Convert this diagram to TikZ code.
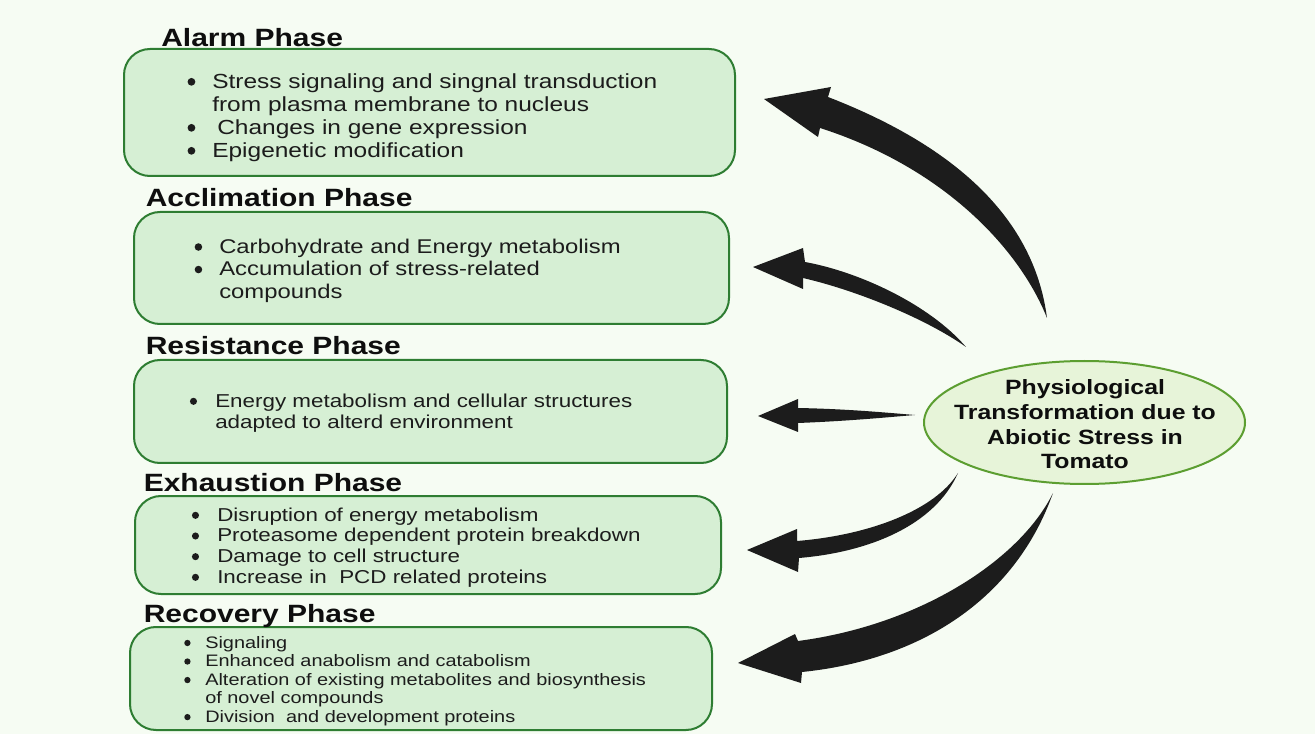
\documentclass[tikz,border=0pt]{standalone}
\usepackage{fontspec}
\setmainfont{Liberation Sans}[FakeStretch=1.2]
\usetikzlibrary{shapes.geometric}
\newdimen\px \px=0.75pt
\newcommand\pbul[1]{\makebox[#1][l]{\hspace*{0.03em}\tikz[baseline=-0.32em]\fill[txtcol] (0,0) circle (0.19em);}}
\definecolor{bgcol}{HTML}{F6FCF3}
\definecolor{boxfill}{HTML}{D6EFD4}
\definecolor{boxline}{HTML}{2E7D32}
\definecolor{ellfill}{HTML}{E7F4D9}
\definecolor{ellline}{HTML}{5C9E31}
\definecolor{arrowcol}{HTML}{1C1C1C}
\definecolor{txtcol}{HTML}{1C1C1C}
\definecolor{titlecol}{HTML}{0E0E0E}
\begin{document}
\begin{tikzpicture}[x=0.75pt,y=-0.75pt,
  phasebox/.style={draw=boxline, line width=2\px, fill=boxfill, rounded corners=26\px, inner sep=0pt},
  phasetitle/.style={anchor=base west, inner sep=0pt, text=titlecol, font=\bfseries\fontsize{18.75}{22}\selectfont},
  listtext/.style={anchor=north west, inner sep=0pt, align=left, text=txtcol},
  arrowfill/.style={fill=arrowcol, draw=none},
  ellnode/.style={ellipse, draw=ellline, line width=2\px, fill=ellfill, inner sep=0pt},
  elltext/.style={inner sep=0pt, align=center, text=titlecol, font=\bfseries\fontsize{15.5}{18.5}\selectfont}]
\path[use as bounding box, fill=bgcol] (0,0) rectangle (1315,734);

% boxes
\node[phasebox, minimum width=611\px, minimum height=127\px] (alarm) at (429.5,112.5) {};
\node[phasebox, minimum width=595\px, minimum height=112\px] (acclim) at (431.5,268) {};
\node[phasebox, minimum width=593\px, minimum height=103\px] (resist) at (430.5,411.5) {};
\node[phasebox, minimum width=586\px, minimum height=98\px] (exhaust) at (428,545) {};
\node[phasebox, minimum width=582\px, minimum height=103\px] (recov) at (421,678.5) {};

% titles
\node[phasetitle] (alarmttl) at (161,47) {Alarm Phase};
\node[phasetitle] (acclimttl) at (145.5,207) {Acclimation Phase};
\node[phasetitle] (resistttl) at (145.5,355) {Resistance Phase};
\node[phasetitle] (exhaustttl) at (143.5,492) {Exhaustion Phase};
\node[phasetitle] (recovttl) at (143.5,622) {Recovery Phase};

% lists
\node[listtext, font=\fontsize{15.3}{17.25}\selectfont] (alarmtxt) at (186.7,73.3)
 {\pbul{25.3\px}Stress signaling and singnal transduction\\
  \hspace*{25.3\px}from plasma membrane to nucleus\\
  \pbul{25.3\px}\hspace*{5\px}Changes in gene expression\\
  \pbul{25.3\px}Epigenetic modification};
\node[listtext, font=\fontsize{14.9}{16.9}\selectfont] (acclimtxt) at (193.8,238.7)
 {\pbul{25.2\px}Carbohydrate and Energy metabolism\\
  \pbul{25.2\px}Accumulation of stress-related\\
  \hspace*{25.2\px}compounds};
\node[listtext, font=\fontsize{14}{15.75}\selectfont] (resisttxt) at (189.1,393.5)
 {\pbul{25.9\px}Energy metabolism and cellular structures\\
  \hspace*{25.9\px}adapted to alterd environment};
\node[listtext, font=\fontsize{14}{15.5}\selectfont] (exhausttxt) at (191.1,507.5)
 {\pbul{25.9\px}Disruption of energy metabolism\\
  \pbul{25.9\px}Proteasome dependent protein breakdown\\
  \pbul{25.9\px}Damage to cell structure\\
  \pbul{25.9\px}Increase in\ \ PCD related proteins};
\node[listtext, font=\fontsize{12.45}{13.9}\selectfont] (recovtxt) at (183.5,636)
 {\pbul{21.5\px}Signaling\\
  \pbul{21.5\px}Enhanced anabolism and catabolism\\
  \pbul{21.5\px}Alteration of existing metabolites and biosynthesis\\
  \hspace*{21.5\px}of novel compounds\\
  \pbul{21.5\px}Division\ \ and development proteins};

% central ellipse
\node[ellnode, minimum width=321\px, minimum height=123\px] (ell) at (1084.5,422.5) {};
\node[elltext] (elltxt) at (1085,424.5) {Physiological\\Transformation due to\\Abiotic Stress in\\Tomato};

% arrows
\coordinate (a1s) at (1047,318); \coordinate (a1t) at (764,99);
\fill[arrowfill] (a1s) .. controls (1035,225) and (965,150) .. (828,97) -- (831,87) -- (a1t) -- (818,137) -- (820,128) .. controls (945,168) and (1020,250) .. (a1s) -- cycle;
\coordinate (a2s) at (966,347); \coordinate (a2t) at (753,267);
\fill[arrowfill] (a2s) .. controls (930,305) and (860,272) .. (805,262) -- (803,248) -- (a2t) -- (803,289) -- (803,278) .. controls (855,290) and (925,318) .. (a2s) -- cycle;
\coordinate (a3s) at (915,415); \coordinate (a3t) at (758,416);
\fill[arrowfill] (a3s) .. controls (890,413) and (850,409) .. (798,408) -- (798,399) -- (a3t) -- (798,432) -- (798,423) .. controls (850,421) and (890,417) .. (a3s) -- cycle;
\coordinate (a4s) at (958,473); \coordinate (a4t) at (747,550);
\fill[arrowfill] (a4s) .. controls (935,510) and (870,535) .. (797,541) -- (797,529) -- (a4t) -- (798,572) -- (799,558) .. controls (870,552) and (935,525) .. (a4s) -- cycle;
\coordinate (a5s) at (1053,493); \coordinate (a5t) at (738,663);
\fill[arrowfill] (a5s) .. controls (1020,560) and (920,625) .. (798,641) -- (795,634) -- (a5t) -- (801,683) -- (802,672) .. controls (920,660) and (1015,600) .. (a5s) -- cycle;
\end{tikzpicture}
\end{document}
